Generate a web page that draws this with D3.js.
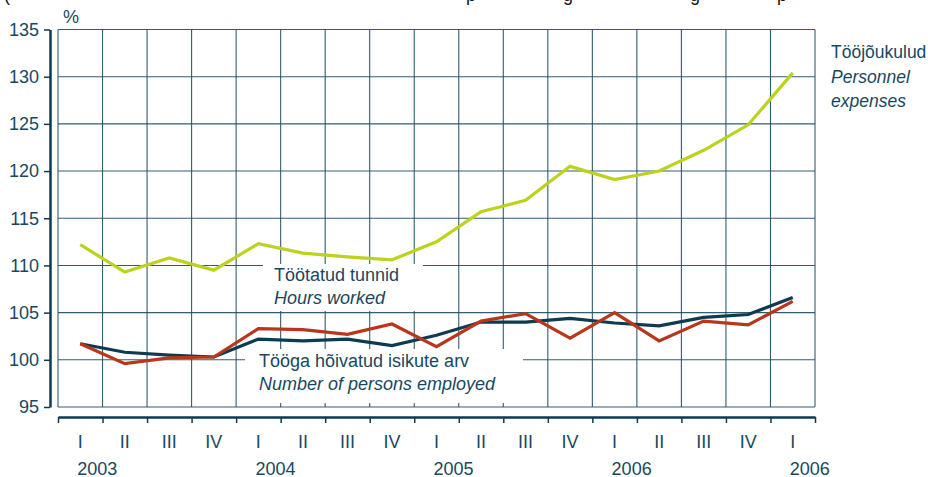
<!DOCTYPE html>
<html>
<head>
<meta charset="utf-8">
<script src="https://cdn.jsdelivr.net/npm/d3@7"></script>
<style>
  body { margin: 0; background: #fff; }
  svg { display: block; }
  text { font-family: "Liberation Sans", Arial, Helvetica, sans-serif; fill: #18485f; }
</style>
</head>
<body>
<svg id="chart"></svg>
<script>
const width = 928;
const height = 477;

// quarters 2003 I ... 2006 I (last one labelled 2006 in the source)
const quarters = ["I", "II", "III", "IV", "I", "II", "III", "IV", "I", "II", "III", "IV", "I", "II", "III", "IV", "I"];
const yearLabels = ["2003", "2004", "2005", "2006", "2006"];
const yearAt = [0, 4, 8, 12, 16];
const yTicks = [95, 100, 105, 110, 115, 120, 125, 130, 135];

const personnel = [112.2, 109.3, 110.8, 109.5, 112.3, 111.3, 110.9, 110.6, 112.5, 115.7, 116.9, 120.5, 119.1, 120.0, 122.2, 124.9, 130.4];
const hours = [101.7, 99.6, 100.2, 100.3, 103.3, 103.2, 102.7, 103.8, 101.4, 104.1, 104.9, 102.3, 105.0, 102.0, 104.1, 103.7, 106.2];
const employed = [101.7, 100.8, 100.5, 100.3, 102.2, 102.0, 102.2, 101.5, 102.6, 104.0, 104.0, 104.4, 103.9, 103.6, 104.5, 104.8, 106.6];

// bits of the cropped title line above the chart
const titleGlyphs = [["(", 4], ["p", 466], ["g", 563], ["g", 690], ["p", 777]];

const dark = "#0d3b52";
const gridColor = "#1d4b63";

const plotLeft = 58, plotRight = 815, plotTop = 29.5, plotBottom = 407;

const x = d3.scaleLinear().domain([0, quarters.length]).range([plotLeft, plotRight]);
const y = d3.scaleLinear().domain([95, 135]).range([plotBottom, plotTop]);

const svg = d3.select("#chart")
    .attr("width", width)
    .attr("height", height);

svg.selectAll(".title-bit").data(titleGlyphs).enter()
    .append("text")
    .attr("class", "title-bit")
    .attr("x", d => d[1])
    .attr("y", 1)
    .attr("font-size", 18)
    .style("fill", "#111")
    .text(d => d[0]);

// grid
const grid = svg.append("g");
grid.selectAll("line.h").data(yTicks).enter()
    .append("line")
    .attr("x1", plotLeft).attr("x2", plotRight)
    .attr("y1", d => y(d)).attr("y2", d => y(d))
    .attr("stroke", gridColor)
    .attr("stroke-opacity", 0.9)
    .attr("stroke-width", 1.1);
grid.selectAll("line.v").data(d3.range(quarters.length + 1)).enter()
    .append("line")
    .attr("x1", d => x(d)).attr("x2", d => x(d))
    .attr("y1", plotTop).attr("y2", plotBottom)
    .attr("stroke", gridColor)
    .attr("stroke-opacity", 0.9)
    .attr("stroke-width", 1.1);

// white patches behind the in-plot labels
svg.append("rect").attr("x", 263).attr("y", 264).attr("width", 160).attr("height", 47).attr("fill", "#fff");
svg.append("rect").attr("x", 245).attr("y", 349).attr("width", 278).attr("height", 54).attr("fill", "#fff");

// y axis
const yAxis = svg.append("g")
    .attr("transform", "translate(50,0)")
    .call(d3.axisLeft(y).tickValues(yTicks).tickSize(6).tickSizeOuter(0).tickPadding(5));
yAxis.attr("font-family", null).attr("font-size", null);
yAxis.select(".domain").attr("stroke", dark).attr("stroke-width", 2.5);
yAxis.selectAll(".tick line").attr("stroke", dark).attr("stroke-width", 1.5);
yAxis.selectAll(".tick text")
    .attr("font-size", 18)
    .attr("fill", null);

// x axis
const xAxis = svg.append("g")
    .attr("transform", "translate(0,417)")
    .call(d3.axisBottom(x).tickValues(d3.range(quarters.length + 1)).tickFormat("").tickSize(6).tickSizeOuter(0));
xAxis.select(".domain").attr("stroke", dark).attr("stroke-width", 2.5);
xAxis.selectAll(".tick line").attr("stroke", dark).attr("stroke-width", 1.5);

svg.append("g").selectAll("text").data(quarters).enter()
    .append("text")
    .attr("x", (d, i) => x(i + 0.5))
    .attr("y", 448)
    .attr("text-anchor", "middle")
    .attr("font-size", 18)
    .text(d => d);

svg.append("g").selectAll("text").data(yearLabels).enter()
    .append("text")
    .attr("x", (d, i) => x(yearAt[i] + 0.5) - 3)
    .attr("y", 475)
    .attr("font-size", 18)
    .text(d => d);

svg.append("text")
    .attr("x", 63)
    .attr("y", 22.5)
    .attr("font-size", 18)
    .text("%");

// lines
const line = d3.line()
    .x((d, i) => x(i + 0.5))
    .y(d => y(d));

const series = [
    [personnel, "#bdd21f"],
    [employed, dark],
    [hours, "#b8361b"]
];
svg.append("g").selectAll("path").data(series).enter()
    .append("path")
    .attr("d", d => line(d[0]))
    .attr("fill", "none")
    .attr("stroke", d => d[1])
    .attr("stroke-width", 3.2);

// labels
const labels = [
    ["Tööjõukulud", 831, 58, "normal", 17.5],
    ["Personnel", 831, 83, "italic", 17.5],
    ["expenses", 831, 107, "italic", 17.5],
    ["Töötatud tunnid", 274, 281, "normal", 18],
    ["Hours worked", 274, 304, "italic", 18],
    ["Tööga hõivatud isikute arv", 259, 367, "normal", 18],
    ["Number of persons employed", 259, 390, "italic", 18]
];
svg.append("g").selectAll("text").data(labels).enter()
    .append("text")
    .attr("x", d => d[1])
    .attr("y", d => d[2])
    .attr("font-size", d => d[4])
    .attr("font-style", d => d[3])
    .text(d => d[0]);
</script>
</body>
</html>
